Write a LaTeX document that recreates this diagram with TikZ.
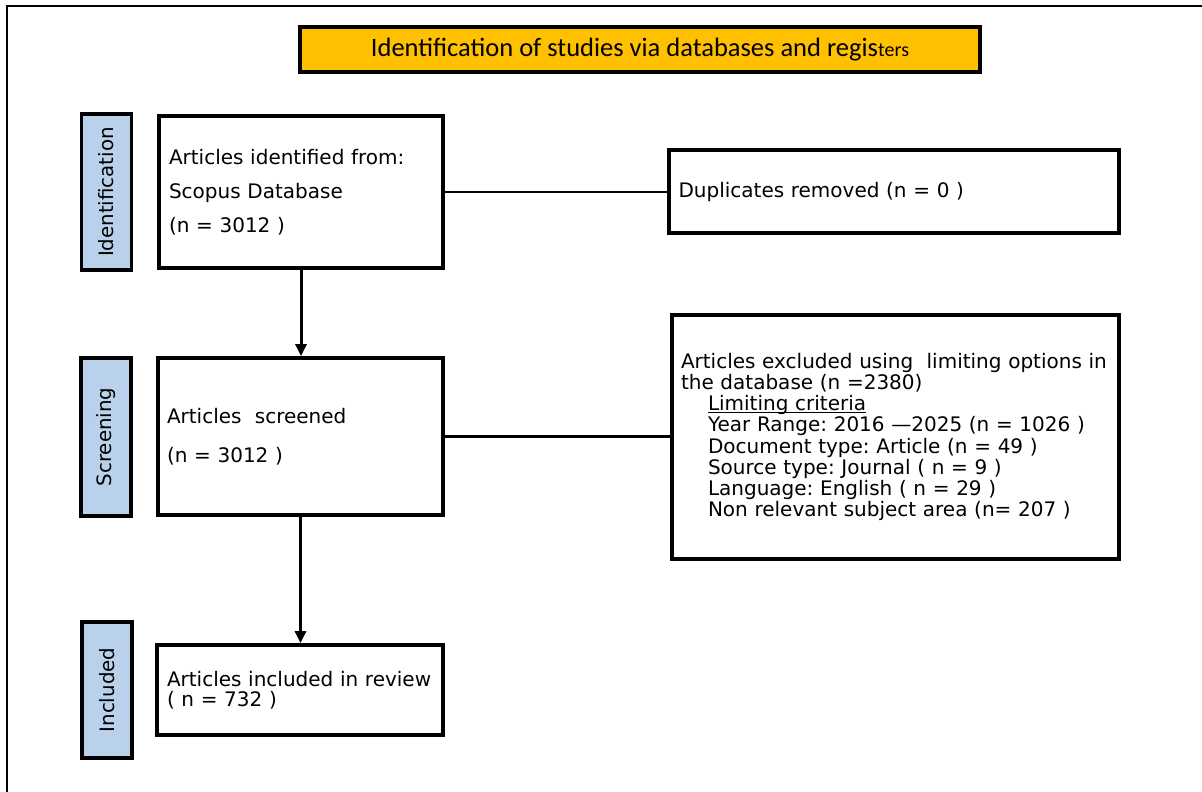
\documentclass[tikz,border=0pt]{standalone}
\usepackage{fontspec}
\setmainfont{DejaVu Sans}
\newfontfamily\titlefont{Carlito}
\usetikzlibrary{arrows.meta}
\definecolor{labelblue}{HTML}{B9D1EA}
\definecolor{titleorange}{HTML}{FFC000}
\frenchspacing
\begin{document}
\begin{tikzpicture}[x=1pt,y=-1pt,
  box/.style={draw,line width=3.8pt,rectangle,inner xsep=10pt,inner ysep=0pt,align=left},
  phase/.style={draw,line width=3.8pt,fill=labelblue,rotate=90,minimum height=50pt,inner sep=0pt,font=\fontsize{19.8}{23}\selectfont},
  link/.style={line width=2.5pt},
  flow/.style={line width=3pt,-{Triangle[length=12pt,width=11pt]}}]
\useasboundingbox (0,0) rectangle (1202,792);
\fill[white] (0,0) rectangle (1202,792);
\draw[line width=2pt] (7,792) -- (7,6) -- (1202,6);

\node[draw,line width=4pt,fill=titleorange,minimum width=680pt,minimum height=45pt,inner sep=0pt,
  font=\titlefont\fontsize{26.5}{30}\selectfont] (title) at (640,49.5)
  {Identification of studies via databases and regis{\fontsize{20}{20}\selectfont ters}};

\node[phase,minimum width=156pt] (pid) at (106.5,192) {Identification};
\node[phase,minimum width=158pt] (pscr) at (106,437) {Screening};
\node[phase,minimum width=136pt] (pinc) at (107,690) {Included};

\node[box,minimum width=284pt,minimum height=152pt,text width=264pt,
  font=\fontsize{20}{34}\selectfont] (ident) at (301,192)
  {Articles identified from:\\Scopus Database\\(n = 3012 )};

\node[box,minimum width=450pt,minimum height=83pt,text width=431pt,inner xsep=9.5pt,
  font=\fontsize{20}{24}\selectfont] (dup) at (894,191.5)
  {Duplicates removed (n = 0 )};

\node[box,minimum width=285pt,minimum height=157pt,text width=267pt,inner xsep=9pt,
  font=\fontsize{20}{39}\selectfont] (scr) at (300.5,436.5)
  {Articles~ screened\\(n = 3012 )};

\node[box,minimum width=447pt,minimum height=244pt,text width=429pt,inner xsep=9pt,
  font=\fontsize{20}{21.1}\selectfont] (big) at (895.5,437)
  {\mbox{Articles excluded using~ limiting options in}\\
   \mbox{the database (n =2380)}\\
   \mbox{\hspace*{27pt}\underline{\smash{Limiting criteria}}}\\
   \mbox{\hspace*{27pt}Year Range: 2016 —2025 (n = 1026 )}\\
   \mbox{\hspace*{27pt}Document type: Article (n = 49 )}\\
   \mbox{\hspace*{27pt}Source type: Journal ( n = 9 )}\\
   \mbox{\hspace*{27pt}Language: English ( n = 29 )}\\
   \mbox{\hspace*{27pt}Non relevant subject area (n= 207 )}};

\node[box,minimum width=286pt,minimum height=90pt,text width=266pt,
  font=\fontsize{20}{20}\selectfont] (inc) at (300,690)
  {Articles included in review\\( n = 732 )};

\draw[link] (ident.east) -- (ident.east -| dup.west);
\draw[link] (scr.east) -- (scr.east -| big.west);
\draw[flow] (ident.south) -- (ident.south |- scr.north);
\draw[flow] (scr.south) -- (scr.south |- inc.north);
\end{tikzpicture}
\end{document}
